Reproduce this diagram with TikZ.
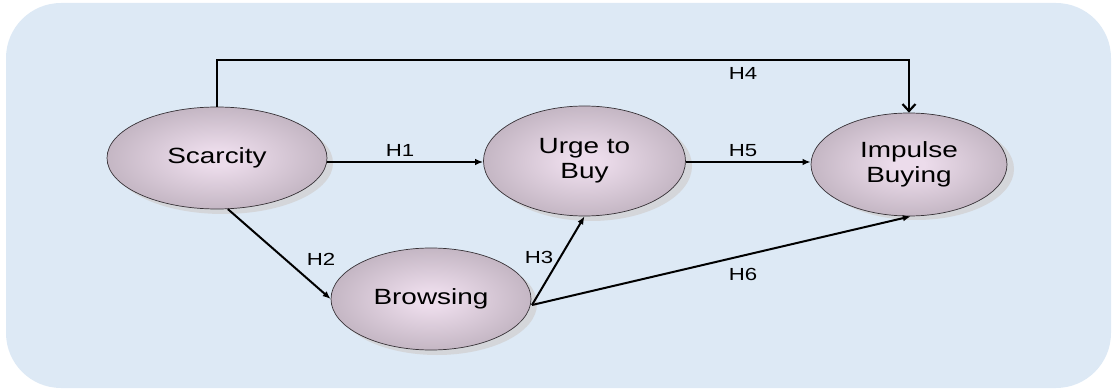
\documentclass[tikz,border=0pt]{standalone}
\usepackage{fontspec}
\setmainfont[FakeStretch=1.27]{Liberation Sans}
\usetikzlibrary{arrows.meta,shapes.geometric}
\definecolor{panel}{RGB}{221,233,245}
\definecolor{bubblein}{RGB}{236,220,235}
\definecolor{bubbleout}{RGB}{164,152,164}
\definecolor{bubbleshadow}{RGB}{212,214,218}
\definecolor{rim}{RGB}{55,50,55}
\pgfdeclareradialshading{bubble}{\pgfpoint{0bp}{0bp}}{%
  color(0bp)=(bubblein); color(4bp)=(bubblein); color(42bp)=(bubbleout); color(50bp)=(bubbleout)}
\tikzset{
  construct/.style={ellipse, draw=rim, line width=0.7pt, shading=bubble,
    align=center, font=\fontsize{22}{25}\selectfont, inner sep=0pt},
  hpath/.style={draw=black, line width=2pt, -{Latex[length=8pt,width=6.5pt]}},
  hyp/.style={font=\fontsize{17.5}{20}\selectfont, inner sep=0pt},
  shadowdisc/.style={fill=bubbleshadow}
}
\begin{document}
\begin{tikzpicture}[x=1pt,y=-1pt]
  \useasboundingbox (0,0) rectangle (1112,390);
  % rounded panel behind the model
  \fill[panel, rounded corners=55pt] (6,3) rectangle (1111,388);

  % soft drop shadows of the constructs
  \fill[shadowdisc] (223,163) ellipse [x radius=110, y radius=51];
  \fill[shadowdisc] (591,166) ellipse [x radius=101, y radius=55];
  \fill[shadowdisc] (437,304) ellipse [x radius=100, y radius=51];
  \fill[shadowdisc] (916,169) ellipse [x radius=98, y radius=51];

  % constructs
  \node[construct, minimum width=220pt, minimum height=102pt] (scar) at (217,158) {Scarcity};
  \node[construct, minimum width=202pt, minimum height=110pt] (urge) at (584.5,161) {Urge to\\Buy};
  \node[construct, minimum width=200pt, minimum height=102pt] (brow) at (431,299) {Browsing};
  \node[construct, minimum width=196pt, minimum height=103pt] (imp) at (909,164.5) {Impulse\\Buying};

  % hypothesised paths
  \draw[hpath] (scar.east |- 0,162) -- (urge.west |- 0,162);
  \draw[hpath] (urge.east |- 0,162) -- (imp.west |- 0,162);
  \draw[hpath] (scar.-78) -- (brow.west);
  \coordinate (bsrc) at (532,305);
  \draw[hpath] (bsrc) -- (urge.south);
  \draw[hpath] (bsrc) -- (imp.-88);
  \draw[draw=black, line width=2.5pt, -{Straight Barb[length=7pt,width=13pt,line width=2.2pt]}]
    (scar.north) -- (217,60) -| (imp.north);

  % hypothesis labels
  \node[hyp] (h1) at (400,150) {H1};
  \node[hyp] (h2) at (321,259) {H2};
  \node[hyp] (h3) at (539,257) {H3};
  \node[hyp] (h4) at (743,73) {H4};
  \node[hyp] (h5) at (743,151) {H5};
  \node[hyp] (h6) at (743,274) {H6};
\end{tikzpicture}
\end{document}
